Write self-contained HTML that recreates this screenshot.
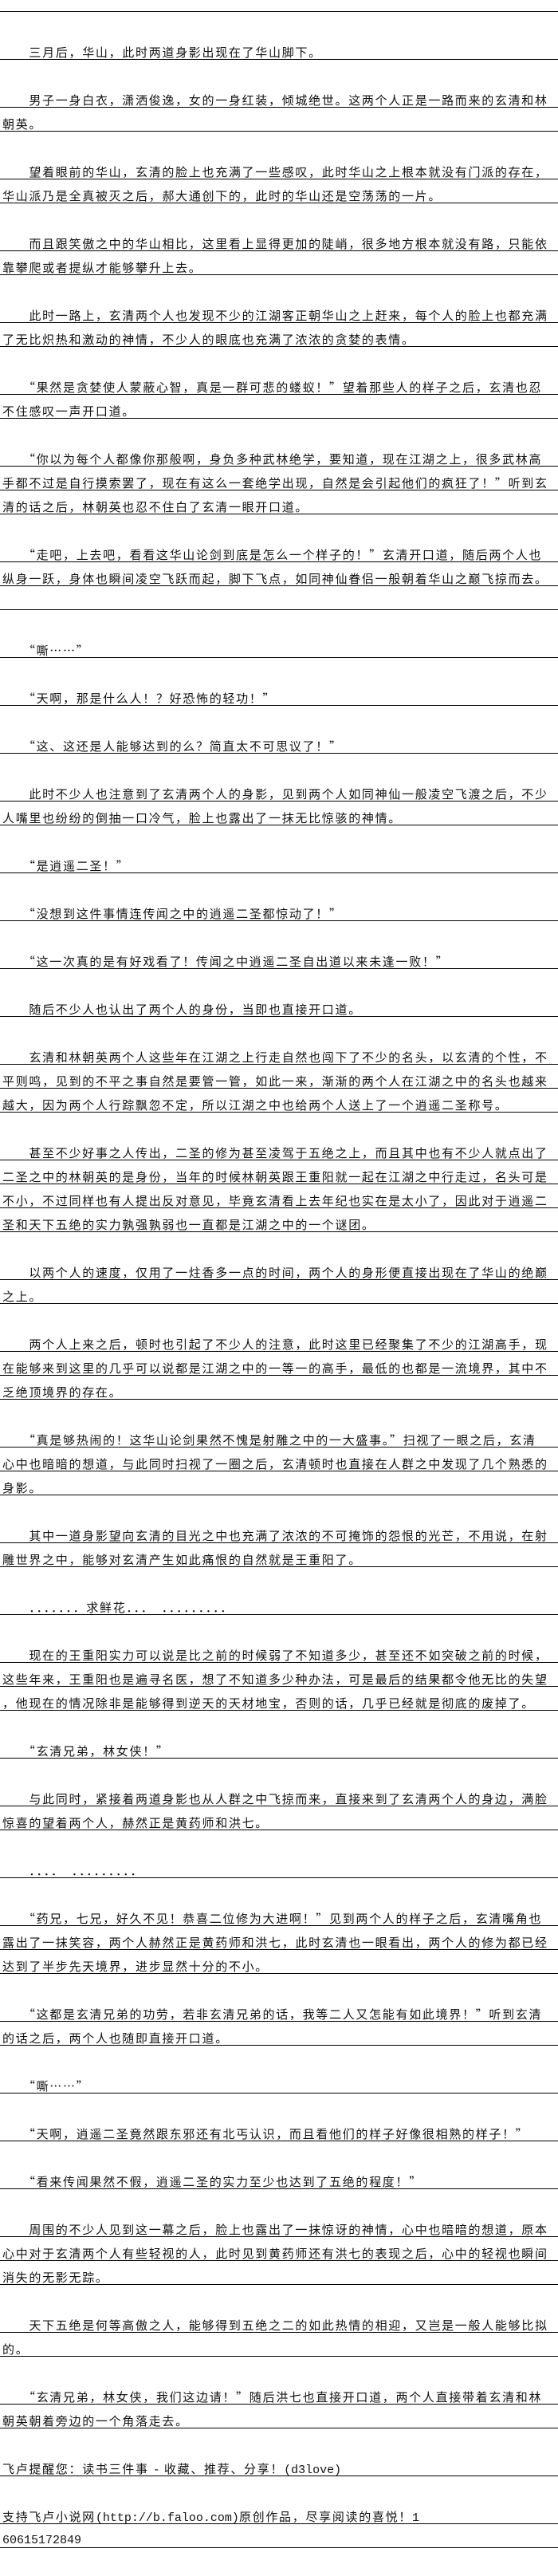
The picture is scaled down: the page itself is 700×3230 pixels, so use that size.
<!DOCTYPE html>
<html><head><meta charset="utf-8">
<style>
html,body{margin:0;padding:0;background:#fff;}
body{width:700px;height:3230px;position:relative;overflow:hidden;}
.r{position:absolute;left:0;width:700px;height:1px;background:#000;}
.t{position:absolute;left:3px;height:20px;line-height:20px;white-space:pre;font-size:15px;letter-spacing:1.7px;color:#111;font-family:"Noto Sans CJK SC","WenQuanYi Zen Hei",sans-serif;}
.m{font-family:"Liberation Mono","Noto Sans CJK SC",monospace;letter-spacing:0;}
</style></head><body>
<div class="r" style="top:14px"></div>

<div class="r" style="top:74px"></div><div class="t" style="top:56px">　　三月后，华山，此时两道身影出现在了华山脚下。</div>
<div class="r" style="top:134px"></div><div class="t" style="top:116px">　　男子一身白衣，潇洒俊逸，女的一身红装，倾城绝世。这两个人正是一路而来的玄清和林</div>
<div class="r" style="top:164px"></div><div class="t" style="top:146px">朝英。</div>
<div class="r" style="top:224px"></div><div class="t" style="top:206px">　　望着眼前的华山，玄清的脸上也充满了一些感叹，此时华山之上根本就没有门派的存在，</div>
<div class="r" style="top:254px"></div><div class="t" style="top:236px">华山派乃是全真被灭之后，郝大通创下的，此时的华山还是空荡荡的一片。</div>
<div class="r" style="top:314px"></div><div class="t" style="top:296px">　　而且跟笑傲之中的华山相比，这里看上显得更加的陡峭，很多地方根本就没有路，只能依</div>
<div class="r" style="top:344px"></div><div class="t" style="top:326px">靠攀爬或者提纵才能够攀升上去。</div>
<div class="r" style="top:404px"></div><div class="t" style="top:386px">　　此时一路上，玄清两个人也发现不少的江湖客正朝华山之上赶来，每个人的脸上也都充满</div>
<div class="r" style="top:434px"></div><div class="t" style="top:416px">了无比炽热和激动的神情，不少人的眼底也充满了浓浓的贪婪的表情。</div>
<div class="r" style="top:494px"></div><div class="t" style="top:476px">　　“果然是贪婪使人蒙蔽心智，真是一群可悲的蝼蚁！”望着那些人的样子之后，玄清也忍</div>
<div class="r" style="top:524px"></div><div class="t" style="top:506px">不住感叹一声开口道。</div>
<div class="r" style="top:584px"></div><div class="t" style="top:566px">　　“你以为每个人都像你那般啊，身负多种武林绝学，要知道，现在江湖之上，很多武林高</div>
<div class="r" style="top:614px"></div><div class="t" style="top:596px">手都不过是自行摸索罢了，现在有这么一套绝学出现，自然是会引起他们的疯狂了！”听到玄</div>
<div class="r" style="top:644px"></div><div class="t" style="top:626px">清的话之后，林朝英也忍不住白了玄清一眼开口道。</div>
<div class="r" style="top:704px"></div><div class="t" style="top:686px">　　“走吧，上去吧，看看这华山论剑到底是怎么一个样子的！”玄清开口道，随后两个人也</div>
<div class="r" style="top:734px"></div><div class="t" style="top:716px">纵身一跃，身体也瞬间凌空飞跃而起，脚下飞点，如同神仙眷侣一般朝着华山之巅飞掠而去。</div>
<div class="r" style="top:764px"></div>
<div class="r" style="top:824px"></div><div class="t" style="top:806px">　　“嘶……”</div>
<div class="r" style="top:884px"></div><div class="t" style="top:866px">　　“天啊，那是什么人！？好恐怖的轻功！”</div>
<div class="r" style="top:944px"></div><div class="t" style="top:926px">　　“这、这还是人能够达到的么？简直太不可思议了！”</div>
<div class="r" style="top:1004px"></div><div class="t" style="top:986px">　　此时不少人也注意到了玄清两个人的身影，见到两个人如同神仙一般凌空飞渡之后，不少</div>
<div class="r" style="top:1034px"></div><div class="t" style="top:1016px">人嘴里也纷纷的倒抽一口冷气，脸上也露出了一抹无比惊骇的神情。</div>
<div class="r" style="top:1094px"></div><div class="t" style="top:1076px">　　“是逍遥二圣！”</div>
<div class="r" style="top:1154px"></div><div class="t" style="top:1136px">　　“没想到这件事情连传闻之中的逍遥二圣都惊动了！”</div>
<div class="r" style="top:1214px"></div><div class="t" style="top:1196px">　　“这一次真的是有好戏看了！传闻之中逍遥二圣自出道以来未逢一败！”</div>
<div class="r" style="top:1274px"></div><div class="t" style="top:1256px">　　随后不少人也认出了两个人的身份，当即也直接开口道。</div>
<div class="r" style="top:1334px"></div><div class="t" style="top:1316px">　　玄清和林朝英两个人这些年在江湖之上行走自然也闯下了不少的名头，以玄清的个性，不</div>
<div class="r" style="top:1364px"></div><div class="t" style="top:1346px">平则鸣，见到的不平之事自然是要管一管，如此一来，渐渐的两个人在江湖之中的名头也越来</div>
<div class="r" style="top:1394px"></div><div class="t" style="top:1376px">越大，因为两个人行踪飘忽不定，所以江湖之中也给两个人送上了一个逍遥二圣称号。</div>
<div class="r" style="top:1454px"></div><div class="t" style="top:1436px">　　甚至不少好事之人传出，二圣的修为甚至凌驾于五绝之上，而且其中也有不少人就点出了</div>
<div class="r" style="top:1484px"></div><div class="t" style="top:1466px">二圣之中的林朝英的是身份，当年的时候林朝英跟王重阳就一起在江湖之中行走过，名头可是</div>
<div class="r" style="top:1514px"></div><div class="t" style="top:1496px">不小，不过同样也有人提出反对意见，毕竟玄清看上去年纪也实在是太小了，因此对于逍遥二</div>
<div class="r" style="top:1544px"></div><div class="t" style="top:1526px">圣和天下五绝的实力孰强孰弱也一直都是江湖之中的一个谜团。</div>
<div class="r" style="top:1604px"></div><div class="t" style="top:1586px">　　以两个人的速度，仅用了一炷香多一点的时间，两个人的身形便直接出现在了华山的绝巅</div>
<div class="r" style="top:1634px"></div><div class="t" style="top:1616px">之上。</div>
<div class="r" style="top:1694px"></div><div class="t" style="top:1676px">　　两个人上来之后，顿时也引起了不少人的注意，此时这里已经聚集了不少的江湖高手，现</div>
<div class="r" style="top:1724px"></div><div class="t" style="top:1706px">在能够来到这里的几乎可以说都是江湖之中的一等一的高手，最低的也都是一流境界，其中不</div>
<div class="r" style="top:1754px"></div><div class="t" style="top:1736px">乏绝顶境界的存在。</div>
<div class="r" style="top:1814px"></div><div class="t" style="top:1796px">　　“真是够热闹的！这华山论剑果然不愧是射雕之中的一大盛事。”扫视了一眼之后，玄清</div>
<div class="r" style="top:1844px"></div><div class="t" style="top:1826px">心中也暗暗的想道，与此同时扫视了一圈之后，玄清顿时也直接在人群之中发现了几个熟悉的</div>
<div class="r" style="top:1874px"></div><div class="t" style="top:1856px">身影。</div>
<div class="r" style="top:1934px"></div><div class="t" style="top:1916px">　　其中一道身影望向玄清的目光之中也充满了浓浓的不可掩饰的怨恨的光芒，不用说，在射</div>
<div class="r" style="top:1964px"></div><div class="t" style="top:1946px">雕世界之中，能够对玄清产生如此痛恨的自然就是王重阳了。</div>
<div class="r" style="top:2024px"></div><div class="t" style="top:2006px">　　．．．．．．．求鲜花．．．　．．．．．．．．．</div>
<div class="r" style="top:2084px"></div><div class="t" style="top:2066px">　　现在的王重阳实力可以说是比之前的时候弱了不知道多少，甚至还不如突破之前的时候，</div>
<div class="r" style="top:2114px"></div><div class="t" style="top:2096px">这些年来，王重阳也是遍寻名医，想了不知道多少种办法，可是最后的结果都令他无比的失望</div>
<div class="r" style="top:2144px"></div><div class="t" style="top:2126px">，他现在的情况除非是能够得到逆天的天材地宝，否则的话，几乎已经就是彻底的废掉了。</div>
<div class="r" style="top:2204px"></div><div class="t" style="top:2186px">　　“玄清兄弟，林女侠！”</div>
<div class="r" style="top:2264px"></div><div class="t" style="top:2246px">　　与此同时，紧接着两道身影也从人群之中飞掠而来，直接来到了玄清两个人的身边，满脸</div>
<div class="r" style="top:2294px"></div><div class="t" style="top:2276px">惊喜的望着两个人，赫然正是黄药师和洪七。</div>
<div class="r" style="top:2354px"></div><div class="t" style="top:2336px">　　．．．．　．．．．．．．．．</div>
<div class="r" style="top:2414px"></div><div class="t" style="top:2396px">　　“药兄，七兄，好久不见！恭喜二位修为大进啊！”见到两个人的样子之后，玄清嘴角也</div>
<div class="r" style="top:2444px"></div><div class="t" style="top:2426px">露出了一抹笑容，两个人赫然正是黄药师和洪七，此时玄清也一眼看出，两个人的修为都已经</div>
<div class="r" style="top:2474px"></div><div class="t" style="top:2456px">达到了半步先天境界，进步显然十分的不小。</div>
<div class="r" style="top:2534px"></div><div class="t" style="top:2516px">　　“这都是玄清兄弟的功劳，若非玄清兄弟的话，我等二人又怎能有如此境界！”听到玄清</div>
<div class="r" style="top:2564px"></div><div class="t" style="top:2546px">的话之后，两个人也随即直接开口道。</div>
<div class="r" style="top:2624px"></div><div class="t" style="top:2606px">　　“嘶……”</div>
<div class="r" style="top:2684px"></div><div class="t" style="top:2666px">　　“天啊，逍遥二圣竟然跟东邪还有北丐认识，而且看他们的样子好像很相熟的样子！”</div>
<div class="r" style="top:2744px"></div><div class="t" style="top:2726px">　　“看来传闻果然不假，逍遥二圣的实力至少也达到了五绝的程度！”</div>
<div class="r" style="top:2804px"></div><div class="t" style="top:2786px">　　周围的不少人见到这一幕之后，脸上也露出了一抹惊讶的神情，心中也暗暗的想道，原本</div>
<div class="r" style="top:2834px"></div><div class="t" style="top:2816px">心中对于玄清两个人有些轻视的人，此时见到黄药师还有洪七的表现之后，心中的轻视也瞬间</div>
<div class="r" style="top:2864px"></div><div class="t" style="top:2846px">消失的无影无踪。</div>
<div class="r" style="top:2924px"></div><div class="t" style="top:2906px">　　天下五绝是何等高傲之人，能够得到五绝之二的如此热情的相迎，又岂是一般人能够比拟</div>
<div class="r" style="top:2954px"></div><div class="t" style="top:2936px">的。</div>
<div class="r" style="top:3014px"></div><div class="t" style="top:2996px">　　“玄清兄弟，林女侠，我们这边请！”随后洪七也直接开口道，两个人直接带着玄清和林</div>
<div class="r" style="top:3044px"></div><div class="t" style="top:3026px">朝英朝着旁边的一个角落走去。</div>
<div class="r" style="top:3104px"></div><div class="t" style="top:3086px">飞卢提醒您：读书三件事 <span class="m">-</span> 收藏、推荐、分享！<span class="m">(d3love)</span></div>
<div class="r" style="top:3164px"></div><div class="t" style="top:3146px">支持飞卢小说网<span class="m">(http://b.faloo.com)</span>原创作品，尽享阅读的喜悦！<span class="m">1</span></div>
<div class="r" style="top:3194px"></div><div class="t m" style="top:3176px">60615172849</div>
</body></html>
